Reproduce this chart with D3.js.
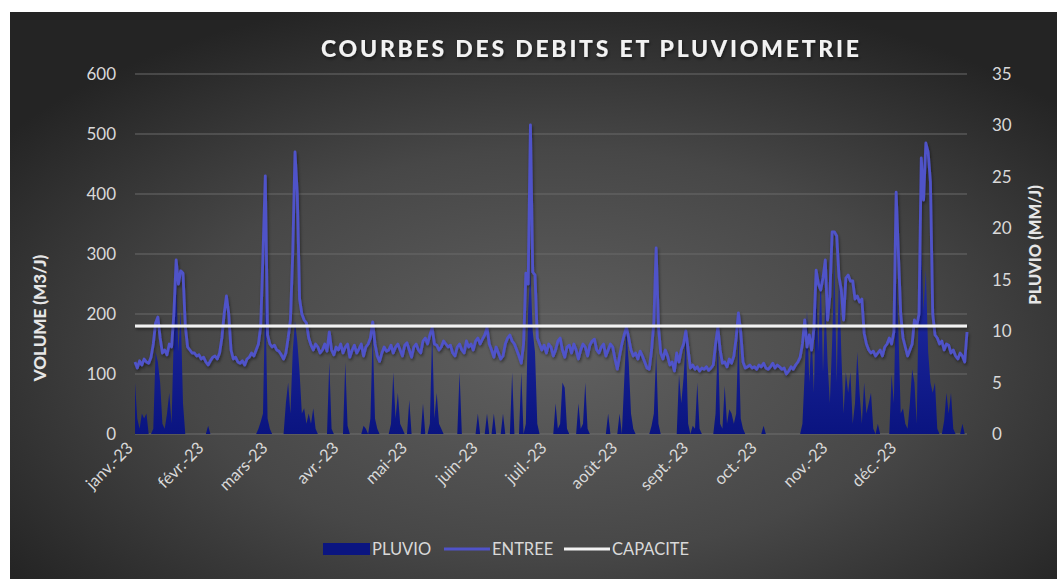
<!DOCTYPE html>
<html>
<head>
<meta charset="utf-8">
<script src="https://cdn.jsdelivr.net/npm/d3@7"></script>
<style>
  body { margin: 0; background: #fff; }
  svg { display: block; }
  text { font-family: Lato, "Open Sans", sans-serif; }
</style>
</head>
<body>
<svg width="1057" height="579"></svg>
<script>
// month tick labels (French, Excel style)
const monthLabels = ["janv.-23", "févr.-23", "mars-23", "avr.-23", "mai-23", "juin-23",
  "juil.-23", "août-23", "sept.-23", "oct.-23", "nov.-23", "déc.-23"];

// daily inflow (m3/j), 1 Jan -> 31 Dec 2023
const entree = [
  120,110,122,115,125,120,118,128,150,185,
  195,160,135,140,132,150,145,200,290,250,
  272,268,180,145,140,135,135,130,132,125,
  128,120,115,122,128,130,125,135,160,200,
  230,200,140,125,128,120,118,122,115,125,
  128,135,130,140,150,180,300,430,165,150,
  145,148,140,138,132,125,135,160,190,300,
  470,400,225,200,190,185,160,148,140,150,
  145,135,140,150,138,170,140,132,145,140,
  150,135,145,150,128,140,148,135,142,150,
  130,145,150,160,187,150,130,121,135,145,
  138,140,148,135,145,150,140,130,148,152,
  140,128,145,150,140,135,155,160,150,165,
  177,150,148,140,145,155,150,145,148,135,
  130,145,150,140,135,155,145,150,140,155,
  160,150,158,165,177,150,140,128,145,135,
  125,130,150,160,165,155,150,140,130,118,
  150,268,250,515,270,265,160,150,140,148,
  135,150,145,130,140,155,160,140,128,145,
  148,135,150,140,125,140,150,145,130,148,
  155,158,140,135,145,150,130,140,150,145,
  125,108,130,150,165,178,160,140,130,135,
  125,138,130,120,110,108,140,187,310,180,
  135,125,140,130,115,120,105,135,120,140,
  150,172,140,110,115,108,112,105,110,108,
  112,106,110,115,150,178,140,118,120,112,
  125,118,130,160,202,170,120,110,112,115,
  110,112,108,115,112,118,110,108,112,118,
  110,115,112,108,110,100,105,112,108,115,
  120,128,150,190,145,165,140,175,273,250,
  240,260,290,190,230,337,337,330,262,240,
  190,260,265,255,255,225,230,220,225,168,
  150,140,135,138,130,135,140,130,145,150,
  160,150,170,403,300,200,160,145,130,140,
  150,190,180,200,460,390,485,470,420,200,
  165,160,150,155,140,150,148,135,140,130,
  125,135,130,120,170
];

// daily rainfall (mm/j)
const pluvio = [
  5,1.5,0.5,2,1.5,2,0,0,0.5,8,
  7,5,1,0.5,2,4,1,10,15,8,
  12,3,0,0,0,0,0,0,0,0,
  0,0,0.8,0,0,0,0,0,0,0,
  0,0,0,0,0,0,0,0,0,0,
  0,0,0,0,0.5,1.2,2,14,1.5,0.5,
  0,0,0,0,0,0,3,5,2,8,
  11,9,6,2,2.5,1,2,1,2.5,0.5,
  0,0,0,0,0,7,0.5,0,0,0,
  0,0,7,0.8,0,0,0,0,0,0,
  0.8,0.5,0,1.5,10,1.5,0.5,0,0,0,
  0,0,1,6,1.5,4,1,0.5,0,0,
  3.3,0,0,0,0,0,3,0,0,1,
  10,1.5,4,1,0.5,0,0,0,0,0,
  0,0,6,0,0,0,0,0,0,0,
  2,0,0,0,2,0,0,2,0,0,
  0,2,0,0,0,6,0,0,0,6,
  0,1,12,16,10,8,1,0,0,0,
  0,0,0,0,3,0.5,1,5,4.5,0.5,
  0,0,0,0,3,0.5,1,5,0.5,0,
  0,0,0,0,0,0,0,2,0,0,
  0,0,2,0,5,10,7,2,0.5,0,
  0,0,0,0,0,0,0.8,2,8,1,
  0,0,0,0,0,0,0,0,5.8,3,
  5.5,9.5,1,0,0.8,0.5,5,0.5,0,0,
  0,0,0,0,2,9.5,1,0.5,4.7,1,
  2.4,2,1,2,10,1.5,0.5,0,0,0,
  0,0,0,0,0,0.8,0,0,0,0,
  0,0,0,0,0,0,0,0,0,0,
  0,0,1,6,12,5,10,4,14,8,
  16,6,13,7,3,9,17,5,16,8,
  2,6,4,6,1,3,8,4,1,5,
  2,3,4,0.5,0,1,0,0,0,0,
  0,5.8,3,15,10,2,2.5,1,0.5,3,
  6.3,5,1,15,18,12,16,8,5,4,
  5,0.5,0,0,1.3,4,2,4,0.5,0,
  0,0,1,0,0
];

const capacite = 180;
const volumeTicks = [0, 100, 200, 300, 400, 500, 600];
const pluvioTicks = [0, 5, 10, 15, 20, 25, 30, 35];

const svg = d3.select("svg");
const margin = {left: 135, right: 90, top: 74, bottom: 145};
const W = 1057, H = 579;

// days of 2023
const days = entree.map((v, i) => new Date(2023, 0, 1 + i));

const x = d3.scaleTime()
  .domain([days[0], days[days.length - 1]])
  .range([margin.left, W - margin.right]);
const y = d3.scaleLinear().domain([0, 600]).range([H - margin.bottom, margin.top]);
const y2 = d3.scaleLinear().domain([0, 35]).range([H - margin.bottom, margin.top]);

const defs = svg.append("defs");
const bg = defs.append("radialGradient").attr("id", "bg")
  .attr("cx", "52%").attr("cy", "60%").attr("r", "65%");
bg.append("stop").attr("offset", "0%").attr("stop-color", "#606060");
bg.append("stop").attr("offset", "55%").attr("stop-color", "#474747");
bg.append("stop").attr("offset", "100%").attr("stop-color", "#242424");

const areaGrad = defs.append("linearGradient").attr("id", "rain")
  .attr("x1", 0).attr("y1", 1).attr("x2", 0).attr("y2", 0);
areaGrad.append("stop").attr("offset", "0%").attr("stop-color", "#0a1480");
areaGrad.append("stop").attr("offset", "100%").attr("stop-color", "#2530a8");

// shadow in user space so it also works on flat lines
const shadow = defs.append("filter").attr("id", "shadow")
  .attr("filterUnits", "userSpaceOnUse")
  .attr("x", 0).attr("y", 0).attr("width", W).attr("height", H);
shadow.append("feDropShadow").attr("dx", 1).attr("dy", 2)
  .attr("stdDeviation", 1.5).attr("flood-color", "#000").attr("flood-opacity", 0.45);

// background
svg.append("rect").attr("x", 10).attr("y", 12).attr("width", W - 10).attr("height", H - 12)
  .attr("fill", "url(#bg)");

// gridlines
svg.append("g").selectAll("line")
  .data(volumeTicks.slice(1))
  .enter().append("line")
    .attr("x1", margin.left).attr("x2", W - margin.right)
    .attr("y1", d => y(d)).attr("y2", d => y(d))
    .attr("stroke", "#6a6a6a").attr("stroke-width", 1);
svg.append("line")
  .attr("x1", margin.left).attr("x2", W - margin.right)
  .attr("y1", y(0)).attr("y2", y(0))
  .attr("stroke", "#6e6e6e").attr("stroke-width", 1);

// title
svg.append("text")
  .attr("x", 590).attr("y", 57)
  .attr("text-anchor", "middle")
  .attr("fill", "#f2f2f2").attr("font-size", 23).attr("font-weight", "900")
  .attr("textLength", 538).attr("lengthAdjust", "spacing")
  .attr("filter", "url(#shadow)")
  .text("COURBES DES DEBITS ET PLUVIOMETRIE");

// left axis
const axL = svg.append("g")
  .attr("transform", "translate(" + (margin.left - 19) + ",0)")
  .call(d3.axisLeft(y).tickValues(volumeTicks).tickSize(0).tickPadding(0));
axL.select(".domain").remove();
axL.selectAll("text").attr("fill", "#d9d9d9").attr("font-size", 17)
  .attr("font-family", "Lato, sans-serif");

// right axis
const axR = svg.append("g")
  .attr("transform", "translate(" + (W - margin.right + 25) + ",0)")
  .call(d3.axisRight(y2).tickValues(pluvioTicks).tickSize(0).tickPadding(0));
axR.select(".domain").remove();
axR.selectAll("text").attr("fill", "#d9d9d9").attr("font-size", 17)
  .attr("font-family", "Lato, sans-serif");

// axis titles
svg.append("text")
  .attr("transform", "translate(46,318) rotate(-90)")
  .attr("text-anchor", "middle").attr("fill", "#e6e6e6")
  .attr("font-size", 17).attr("font-weight", "900")
  .text("VOLUME (M3/J)");
svg.append("text")
  .attr("transform", "translate(1041,245) rotate(-90)")
  .attr("text-anchor", "middle").attr("fill", "#e6e6e6")
  .attr("font-size", 16.5).attr("font-weight", "900")
  .text("PLUVIO (MM/J)");

// x axis month labels
const months = d3.timeMonth.range(new Date(2023, 0, 1), new Date(2024, 0, 1));
svg.append("g").selectAll("text")
  .data(months)
  .enter().append("text")
    .attr("transform", d => "translate(" + (x(d) - 1) + "," + (y(0) + 15) + ") rotate(-45)")
    .attr("text-anchor", "end")
    .attr("fill", "#d9d9d9").attr("font-size", 16.5)
    .text((d, i) => monthLabels[i]);

// PLUVIO area
const area = d3.area()
  .x((d, i) => x(days[i]))
  .y0(y2(0))
  .y1(d => y2(d));
svg.append("path")
  .datum(pluvio)
  .attr("d", area)
  .attr("fill", "url(#rain)");

// ENTREE line
const line = d3.line()
  .x((d, i) => x(days[i]))
  .y(d => y(d));
svg.append("path")
  .datum(entree)
  .attr("d", line)
  .attr("fill", "none")
  .attr("stroke", "#5053c9")
  .attr("stroke-width", 2.8)
  .attr("stroke-linejoin", "round")
  .attr("filter", "url(#shadow)");

// CAPACITE line
svg.append("line")
  .attr("x1", margin.left).attr("x2", W - margin.right)
  .attr("y1", y(capacite)).attr("y2", y(capacite))
  .attr("stroke", "#f2f2f2").attr("stroke-width", 3)
  .attr("filter", "url(#shadow)");

// legend
const legend = svg.append("g").attr("transform", "translate(0,549)");
legend.append("rect").attr("x", 323).attr("y", -6).attr("width", 47).attr("height", 12)
  .attr("fill", "#0b1580");
legend.append("text").attr("x", 372).attr("y", 6).attr("fill", "#d9d9d9")
  .attr("font-size", 16.5).text("PLUVIO");
legend.append("line").attr("x1", 444).attr("x2", 490).attr("y1", 0).attr("y2", 0)
  .attr("stroke", "#5053c9").attr("stroke-width", 2.8);
legend.append("text").attr("x", 492).attr("y", 6).attr("fill", "#d9d9d9")
  .attr("font-size", 16.5).text("ENTREE");
legend.append("line").attr("x1", 564).attr("x2", 610).attr("y1", 0).attr("y2", 0)
  .attr("stroke", "#f2f2f2").attr("stroke-width", 2.8);
legend.append("text").attr("x", 612).attr("y", 6).attr("fill", "#d9d9d9")
  .attr("font-size", 16.5).text("CAPACITE");
</script>
</body>
</html>
